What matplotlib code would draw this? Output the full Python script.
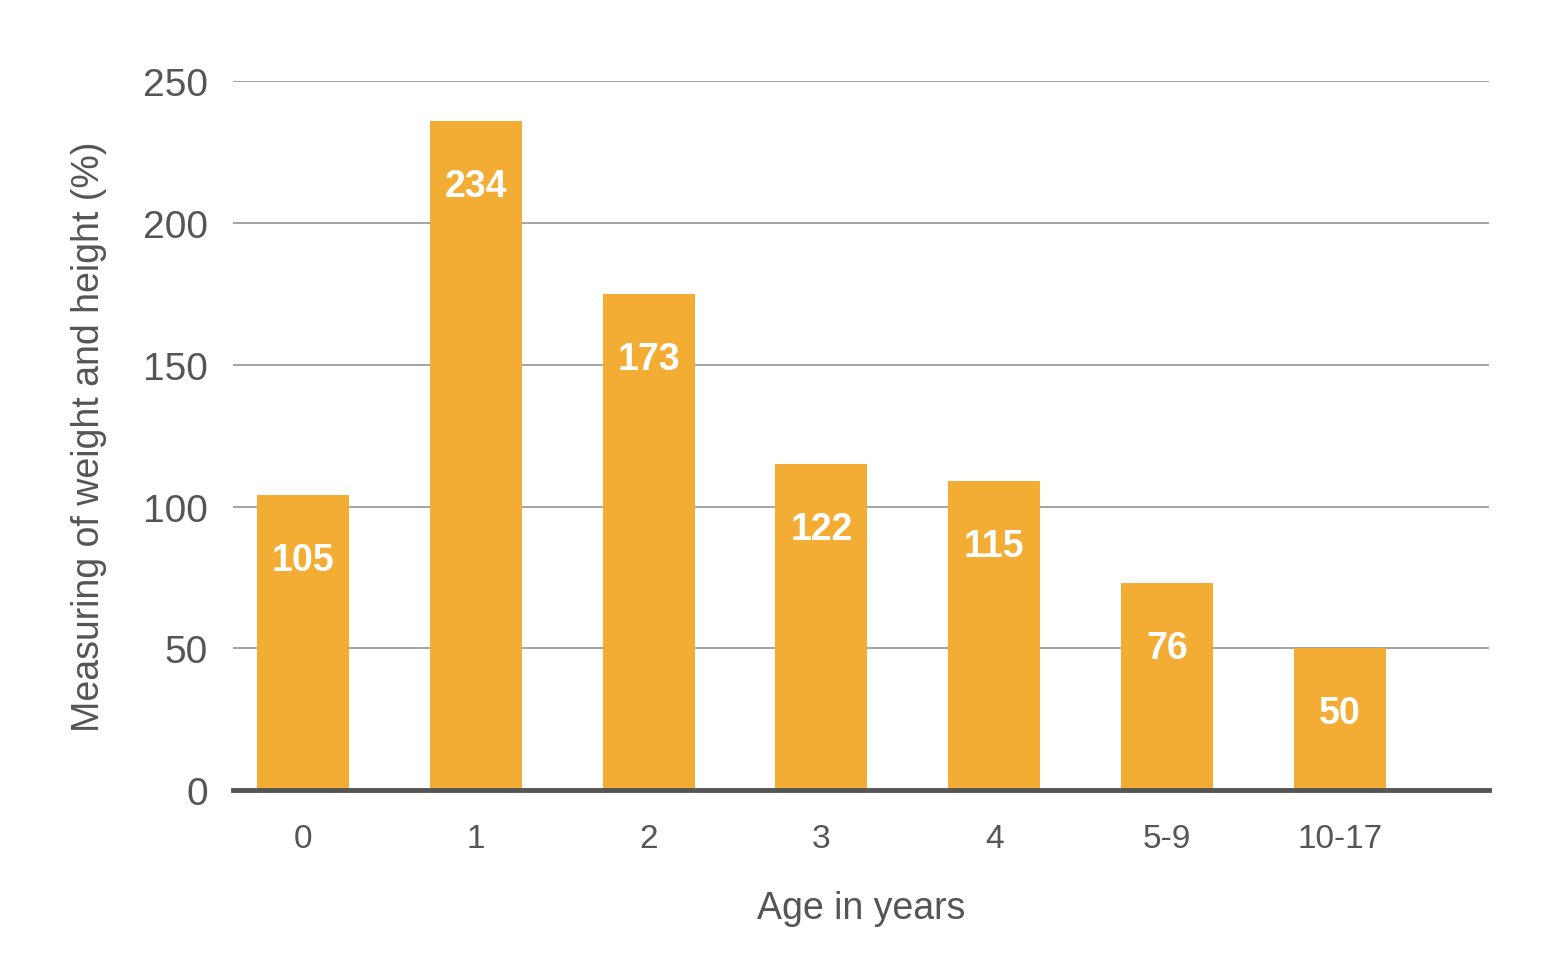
import matplotlib
matplotlib.use("Agg")
import matplotlib.pyplot as plt

plt.rcParams['font.family'] = ['Liberation Sans', 'DejaVu Sans']

# data
ages = ["0", "1", "2", "3", "4", "5-9", "10-17"]
bar_heights = [104, 236, 175, 115, 109, 73, 50]
bar_labels = ["105", "234", "173", "122", "115", "76", "50"]
yticks = [0, 50, 100, 150, 200, 250]

barColor = '#F3AD35'
textColor = '#555555'

fig = plt.figure(figsize=(15.56, 9.79), dpi=100, facecolor='white')
ax = fig.add_axes([0.1497, 0.192, 0.8075, 0.724])

x = list(range(len(ages)))
bars = ax.bar(x, bar_heights, width=0.532, color=barColor, zorder=3)

#white value labels inside the bars
for rect, lab in zip(bars, bar_labels):
    ax.text(rect.get_x() + rect.get_width() / 2, rect.get_height() - 23, lab,
            ha='center', va='center', color='white', fontsize=27,
            fontweight='bold', zorder=4)

ax.set_xlim(-0.405, 6.865)
ax.set_ylim(0, 250)
ax.set_yticks(yticks)
ax.set_xticks(x)
ax.set_xticklabels(ages)
ax.grid(axis='y', color='#8a8a8a', linewidth=1.1, zorder=0)
ax.set_axisbelow(True)

for side in ['top', 'right', 'left']:
    ax.spines[side].set_visible(False)
ax.spines['bottom'].set_color(textColor)
ax.spines['bottom'].set_linewidth(3.5)
ax.spines['bottom'].set_zorder(5)

ax.tick_params(axis='both', length=0, colors=textColor)
ax.tick_params(axis='y', labelsize=28, pad=18)
ax.tick_params(axis='x', labelsize=24, pad=24)

ax.set_xlabel("Age in years", fontsize=27, color=textColor, labelpad=26)
ax.set_ylabel("Measuring of weight and height (%)", fontsize=27,
              color=textColor, labelpad=26)

plt.savefig('out.png', dpi=100, facecolor='white')
